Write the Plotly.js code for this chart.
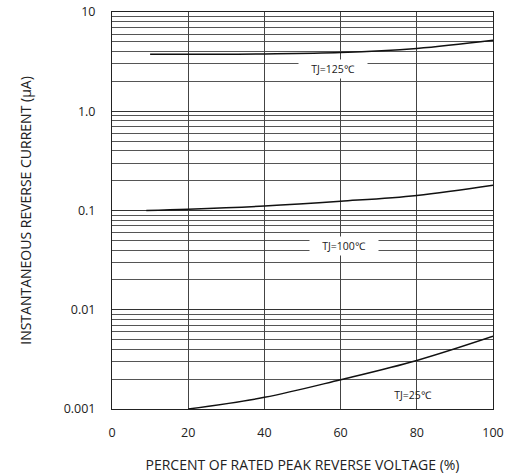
<!DOCTYPE html>
<html>
<head>
<meta charset="utf-8">
<script src="https://cdn.plot.ly/plotly-3.0.1.min.js"></script>
<style>html,body{margin:0;padding:0;background:#fff;}#chart{width:515px;height:475px;}</style>
</head>
<body>
<div id="chart"></div>
<script>
// Data
const x125 = [10, 20, 40, 60, 80, 100];
const y125 = [3.75, 3.75, 3.78, 3.9, 4.3, 5.2];
const x100 = [9, 20, 40, 60, 80, 100];
const y100 = [0.100, 0.103, 0.111, 0.124, 0.142, 0.18];
const x25 = [20, 40, 60, 80, 100];
const y25 = [0.001, 0.00131, 0.00197, 0.00308, 0.0054];

const labels = ["TJ=125℃", "TJ=100℃", "TJ=25℃"];
const labelX = [58, 61, 79];
const labelY = [2.67, 0.044, 0.00138];
const labelBg = ["#ffffff", "#ffffff", "rgba(0,0,0,0)"];

const yTickVals = [0.001, 0.01, 0.1, 1, 10];
const yTickText = ["0.001", "0.01", "0.1", "1.0", "10"];
const xTickVals = [0, 20, 40, 60, 80, 100];
const yMinorVals = [];
[0.001, 0.01, 0.1, 1].forEach(d => { for (let k = 2; k <= 9; k++) yMinorVals.push(+(d * k).toPrecision(3)); });

const lineStyle = {color: "#111", width: 1.5, shape: "spline"};
const traces = [
  {x: x125, y: y125, mode: "lines", line: lineStyle, hoverinfo: "skip"},
  {x: x100, y: y100, mode: "lines", line: lineStyle, hoverinfo: "skip"},
  {x: x25, y: y25, mode: "lines", line: lineStyle, hoverinfo: "skip"}
];

const fontFam = "Open Sans, Liberation Sans, sans-serif";
const annotations = labels.map((t, i) => ({
  x: labelX[i], y: Math.log10(labelY[i]), xref: "x", yref: "y",
  text: t, showarrow: false, bgcolor: labelBg[i],
  font: {family: fontFam, size: 10.5, color: "#222"},
  width: 64, borderpad: 2
}));

const layout = {
  width: 515, height: 475,
  margin: {l: 112, r: 22, t: 12, b: 66},
  paper_bgcolor: "#fff", plot_bgcolor: "#fff",
  showlegend: false,
  font: {family: fontFam, size: 12.5, color: "#222"},
  xaxis: {
    range: [0, 100], tickmode: "array", tickvals: xTickVals,
    showgrid: true, gridcolor: "#444", gridwidth: 1,
    zeroline: false, showline: true, linecolor: "#222", linewidth: 1, mirror: true,
    ticks: "", ticklabelstandoff: 12,
    tickfont: {family: fontFam, size: 12.5, color: "#222"},
    title: {text: "PERCENT OF RATED PEAK REVERSE VOLTAGE (%)", font: {family: fontFam, size: 14, color: "#222"}, standoff: 20}
  },
  yaxis: {
    type: "log", range: [-3, 1], tickmode: "array", tickvals: yTickVals, ticktext: yTickText,
    showgrid: true, gridcolor: "#333", gridwidth: 1,
    minor: {tickmode: "array", tickvals: yMinorVals, showgrid: true, gridcolor: "#555", gridwidth: 1, ticks: ""},
    zeroline: false, showline: true, linecolor: "#222", linewidth: 1, mirror: true,
    ticks: "", ticklabelstandoff: 13,
    tickfont: {family: fontFam, size: 12.5, color: "#222"},
    title: {text: "INSTANTANEOUS REVERSE CURRENT (μA)", font: {family: fontFam, size: 14, color: "#222"}, standoff: 28}
  },
  annotations: annotations
};

Plotly.newPlot("chart", traces, layout, {displayModeBar: false, staticPlot: true});
</script>
</body>
</html>
